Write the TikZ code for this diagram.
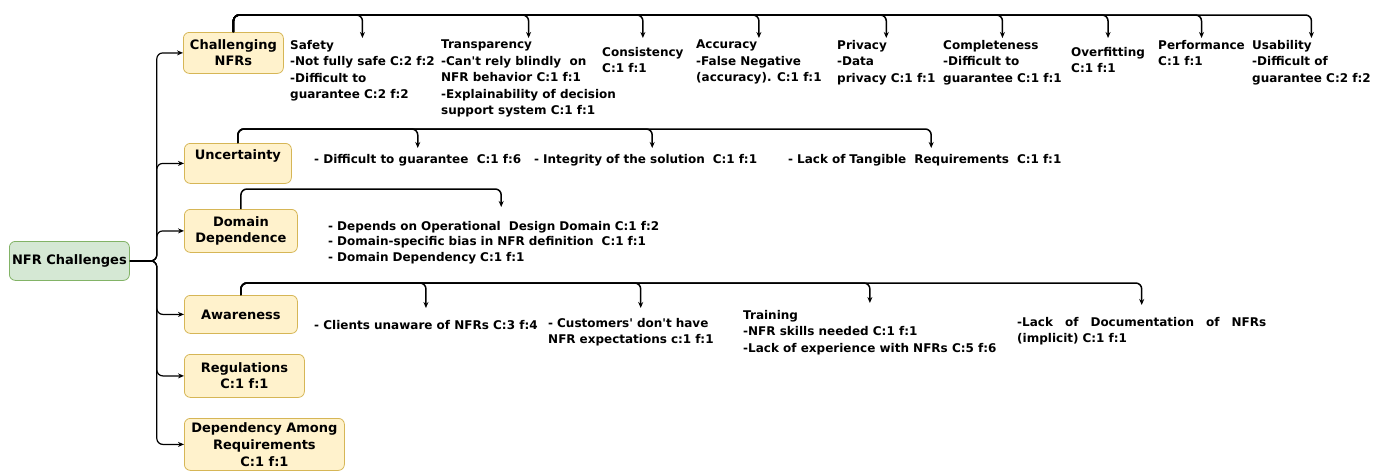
\documentclass[tikz,border=0pt]{standalone}
\usepackage{fontspec}
\setmainfont{DejaVu Sans}
\usetikzlibrary{arrows.meta}
\definecolor{catfill}{HTML}{FFF2CC}
\definecolor{catdraw}{HTML}{D6B656}
\definecolor{rootfill}{HTML}{D5E8D4}
\definecolor{rootdraw}{HTML}{82B366}
\begin{document}
\begin{tikzpicture}[x=1pt,y=-1pt,
  cat/.style={draw=catdraw, fill=catfill, rounded corners=6pt, line width=0.8pt, align=center,
    font=\fontsize{13}{16}\selectfont\bfseries, anchor=north west, inner sep=0pt},
  rootbox/.style={draw=rootdraw, fill=rootfill, rounded corners=6pt, line width=0.8pt, align=center,
    font=\fontsize{13}{16}\selectfont\bfseries, anchor=north west, inner sep=0pt},
  leaf/.style={anchor=north west, inner sep=0pt, align=left, font=\fontsize{12}{16.5}\selectfont\bfseries},
  edge/.style={line width=1.2pt, rounded corners=6pt, -{Stealth[length=6pt,width=5pt]}},
  bus/.style={line width=1.5pt, rounded corners=6pt, -{Stealth[length=6pt,width=5pt]}},
]
\useasboundingbox (0,0) rectangle (1387,471);

% category boxes
\node[rootbox, minimum width=120, minimum height=39] (root) at (9,241) {NFR Challenges};
\node[cat, minimum width=100, minimum height=41] (chal) at (183,32) {Challenging\\NFRs};
\node[cat, minimum width=107, minimum height=40, text height=16pt, text depth=24pt] (unc) at (184,143) {Uncertainty};
\node[cat, minimum width=113, minimum height=43] (dom) at (184,209) {Domain\\Dependence};
\node[cat, minimum width=113, minimum height=38] (awa) at (184,295) {Awareness};
\node[cat, minimum width=120, minimum height=43] (reg) at (184,354) {Regulations\\C:1 f:1};
\node[cat, minimum width=160, minimum height=52, font=\fontsize{13}{17}\selectfont\bfseries] (dar) at (184,418) {Dependency Among\\Requirements\\C:1 f:1};

% root edges
\foreach \t in {chal,unc,dom,awa,reg,dar}
  \draw[edge] (root.east) -- ++(27,0) |- (\t.west);

% challenging NFRs leaves
\node[leaf] (saf) at (290,40) {Safety\\-Not fully safe C:2 f:2\\-Difficult to\\guarantee C:2 f:2};
\node[leaf] (tra) at (441,40) {Transparency\\-Can\textquotesingle t rely blindly\ \ on\\NFR behavior C:1 f:1\\-Explainability of decision\\support system C:1 f:1};
\node[leaf] (con) at (602,47) {Consistency\\C:1 f:1};
\node[leaf] (acc) at (696,40) {Accuracy\\-False Negative\\(accuracy). C:1 f:1};
\node[leaf] (pri) at (837,40) {Privacy\\-Data\\privacy C:1 f:1};
\node[leaf] (com) at (943,40) {Completeness\\-Difficult to\\guarantee C:1 f:1};
\node[leaf] (ove) at (1071,47) {Overfitting\\C:1 f:1};
\node[leaf] (per) at (1158,40) {Performance\\C:1 f:1};
\node[leaf] (usa) at (1252,40) {Usability\\-Difficult of\\guarantee C:2 f:2};

\foreach \t in {saf,tra,acc,pri,com,per,usa}
  \draw[bus] (chal.north) -- ++(0,-17) -| ([yshift=2pt]\t.north);
\foreach \t in {con,ove}
  \draw[bus] (chal.north) -- ++(0,-17) -| ([yshift=9pt]\t.north);

% uncertainty leaves
\node[leaf] (u1) at (314,154) {- Difficult to guarantee\ \ C:1 f:6};
\node[leaf, text width=236pt] (u2) at (534,154) {- Integrity of the solution\ \ C:1 f:1};
\node[leaf, text width=286pt] (u3) at (788,154) {- Lack of Tangible\ \ Requirements\ \ C:1 f:1};
\foreach \t in {u1,u2,u3}
  \draw[bus] (unc.north) -- ++(0,-14) -| ([yshift=6pt]\t.north);

% domain leaves
\node[leaf, text width=346pt, font=\fontsize{12}{15.5}\selectfont\bfseries] (d1) at (328,221) {- Depends on Operational\ \ Design Domain C:1 f:2\\- Domain-specific bias in NFR definition\ \ C:1 f:1\\- Domain Dependency C:1 f:1};
\draw[bus] (dom.north) -- ++(0,-20) -| ([yshift=14pt]d1.north);

% awareness leaves
\node[leaf] (a1) at (314,320) {- Clients unaware of NFRs C:3 f:4};
\node[leaf, text width=185pt] (a2) at (548,318) {- Customers\textquotesingle{} don\textquotesingle t have\\NFR expectations c:1 f:1};
\node[leaf] (a3) at (743,310) {Training\\-NFR skills needed C:1 f:1\\-Lack of experience with NFRs C:5 f:6};
\node[leaf, text width=249pt] (a4) at (1017,317) {-Lack\hfill of\hfill Documentation\hfill of\hfill NFRs\\(implicit) C:1 f:1};
\draw[bus] (awa.north) -- ++(0,-12) -| ([yshift=12pt]a1.north);
\draw[bus] (awa.north) -- ++(0,-12) -| ([yshift=10pt]a2.north);
\draw[bus] (awa.north) -- ++(0,-12) -| ([yshift=7pt]a3.north);
\draw[bus] (awa.north) -- ++(0,-12) -| ([yshift=12pt]a4.north);
\end{tikzpicture}
\end{document}
